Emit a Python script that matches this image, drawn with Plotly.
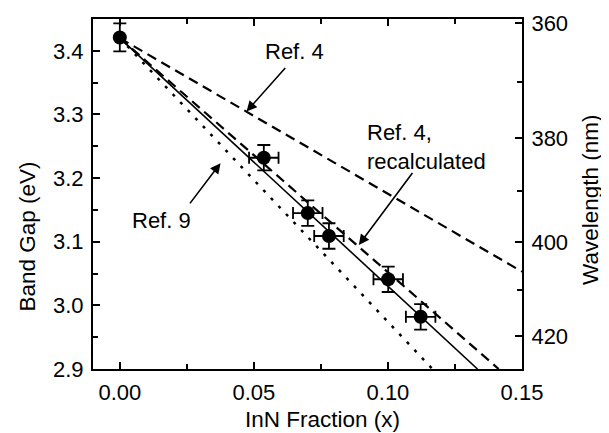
import plotly.graph_objects as go

# ---- data ----
inn_fraction = [0.0, 0.0537, 0.0701, 0.0780, 0.1001, 0.1122]
band_gap = [3.421, 3.232, 3.145, 3.109, 3.041, 2.982]
x_err = [0.0, 0.0055, 0.0055, 0.0055, 0.0055, 0.0055]
y_err = [0.022, 0.02, 0.02, 0.02, 0.02, 0.02]

fit_x = [0.0, 0.1334]
fit_y = [3.42, 2.90]
ref4_x = [0.0, 0.15]
ref4_y = [3.42, 3.053]
ref4r_x = [0.0, 0.1413]
ref4r_y = [3.42, 2.90]
ref9_x = [0.0, 0.1166]
ref9_y = [3.42, 2.90]

x_ticks = [0.0, 0.05, 0.10, 0.15]
x_labels = ["0.00", "0.05", "0.10", "0.15"]
y_ticks = [2.9, 3.0, 3.1, 3.2, 3.3, 3.4]
y_labels = ["2.9", "3.0", "3.1", "3.2", "3.3", "3.4"]
wl_major = [360, 380, 400, 420]
wl_minor = [370, 390, 410]
HC = 1239.84  # eV*nm

# page has an 8px body margin; figure placed at (8, 8)
OFF = 8
W, H = 609 - OFF, 433 - OFF
PL, PR, PT, PB = 92.5, 522.0, 19.0, 369.0   # plot area in page pixels
L, R, T, B = PL - OFF, (W + OFF) - PR, PT - OFF, (H + OFF) - PB
XR = [-0.01, 0.15]
YR = [2.9, 3.45]
FONT = "Liberation Sans, Arial, Helvetica, sans-serif"


def px_x(px):
    return (px - PL) / (PR - PL)


def px_y(py):
    return (PB - py) / (PB - PT)


fig = go.Figure()

fig.add_trace(go.Scatter(x=ref9_x, y=ref9_y, mode="lines",
                         line=dict(color="black", width=2.5, dash="3px,8px"),
                         hoverinfo="skip", showlegend=False))
fig.add_trace(go.Scatter(x=ref4_x, y=ref4_y, mode="lines",
                         line=dict(color="black", width=2.2, dash="10px,6px"),
                         hoverinfo="skip", showlegend=False))
fig.add_trace(go.Scatter(x=ref4r_x, y=ref4r_y, mode="lines",
                         line=dict(color="black", width=2.2, dash="10px,6px"),
                         hoverinfo="skip", showlegend=False))
fig.add_trace(go.Scatter(x=fit_x, y=fit_y, mode="lines",
                         line=dict(color="black", width=1.6),
                         hoverinfo="skip", showlegend=False))
fig.add_trace(go.Scatter(
    x=inn_fraction, y=band_gap, mode="markers",
    marker=dict(color="black", size=14),
    error_y=dict(type="data", array=y_err, visible=True, color="black",
                 thickness=1.8, width=6.5),
    error_x=dict(type="data", array=x_err, visible=True, color="black",
                 thickness=1.8, width=6),
    showlegend=False))
# invisible trace to carry the wavelength axis
fig.add_trace(go.Scatter(x=[inn_fraction[0]], y=[band_gap[0]], yaxis="y2",
                         mode="markers", marker=dict(opacity=0),
                         hoverinfo="skip", showlegend=False))

axis_common = dict(showgrid=False, zeroline=False, showline=True,
                   linecolor="black", linewidth=2, ticks="inside",
                   ticklen=7, tickwidth=1.5, tickcolor="black",
                   tickfont=dict(family=FONT, size=22, color="black"))

fig.update_layout(
    width=W, height=H,
    margin=dict(l=L, r=R, t=T, b=B, pad=0, autoexpand=False),
    paper_bgcolor="white", plot_bgcolor="white",
    font=dict(family=FONT, size=22, color="black"),
    xaxis=dict(range=XR, tickvals=x_ticks, ticktext=x_labels, mirror="ticks",
               minor=dict(tickvals=[0.025, 0.075, 0.125], ticks="inside",
                          ticklen=5, tickwidth=1.5, tickcolor="black"),
               ticklabelstandoff=3, **axis_common),
    yaxis=dict(range=YR, tickvals=y_ticks, ticktext=y_labels, mirror=False,
               minor=dict(tickvals=[2.95, 3.05, 3.15, 3.25, 3.35], ticks="inside",
                          ticklen=5, tickwidth=1.5, tickcolor="black"),
               ticklabelstandoff=3, **axis_common),
    yaxis2=dict(range=YR, overlaying="y", side="right",
                tickvals=[HC / w for w in wl_major],
                ticktext=[str(w) for w in wl_major],
                minor=dict(tickvals=[HC / w for w in wl_minor], ticks="inside",
                           ticklen=5, tickwidth=1.5, tickcolor="black"),
                ticklabelstandoff=3, **axis_common),
)

ann = []
# axis titles
ann.append(dict(text="InN Fraction (x)", xref="paper", yref="paper",
                x=px_x(322), y=px_y(419),
                showarrow=False, xanchor="center", yanchor="middle",
                font=dict(family=FONT, size=22.5)))
ann.append(dict(text="Band Gap (eV)", xref="paper", yref="paper",
                x=px_x(27), y=px_y(237),
                textangle=-90, showarrow=False, xanchor="center", yanchor="middle",
                font=dict(family=FONT, size=22.5)))
ann.append(dict(text="Wavelength (nm)", xref="paper", yref="paper",
                x=px_x(590), y=px_y(200),
                textangle=-90, showarrow=False, xanchor="center", yanchor="middle",
                font=dict(family=FONT, size=22.5)))
# labels
ann.append(dict(text="Ref. 4", x=0.0652, y=3.399, xref="x", yref="y",
                showarrow=False, xanchor="center", yanchor="middle",
                font=dict(family=FONT, size=22)))
ann.append(dict(text="Ref. 4,<br>recalculated", x=0.0916, y=3.2484, xref="x", yref="y",
                showarrow=False, xanchor="left", yanchor="middle", align="left",
                font=dict(family=FONT, size=22)))
ann.append(dict(text="Ref. 9", x=0.0156, y=3.1327, xref="x", yref="y",
                showarrow=False, xanchor="center", yanchor="middle",
                font=dict(family=FONT, size=22)))
# arrows
for tip, tail in [((0.04726, 3.3046), (0.0622, 3.3753)),
                  ((0.08915, 3.095), (0.10955, 3.2102)),
                  ((0.03756, 3.2235), (0.02574, 3.1579))]:
    ann.append(dict(text="", x=tip[0], y=tip[1], ax=tail[0], ay=tail[1],
                    xref="x", yref="y", axref="x", ayref="y",
                    showarrow=True, arrowhead=2, arrowsize=1.3, arrowwidth=1.6,
                    arrowcolor="black", standoff=0, startstandoff=0))
fig.update_layout(annotations=ann)

fig.write_html("out.html")
